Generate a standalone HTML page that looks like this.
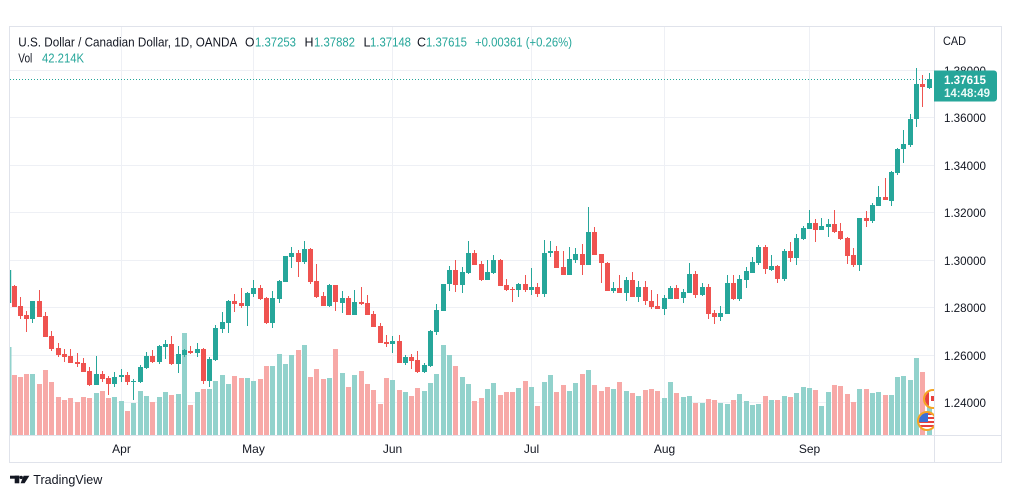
<!DOCTYPE html>
<html><head><meta charset="utf-8">
<style>
html,body{margin:0;padding:0;background:#fff;overflow:hidden;width:1012px;height:498px}
svg{display:block}
text{font-family:"Liberation Sans",Arial,sans-serif}
</style></head>
<body>
<svg id="c" width="1012" height="498" viewBox="0 0 1012 498" xmlns="http://www.w3.org/2000/svg">
<defs>
<clipPath id="pane"><rect x="10" y="27" width="924" height="408"/></clipPath>
<clipPath id="f1"><circle cx="933" cy="399" r="8"/></clipPath>
<clipPath id="f2"><circle cx="927" cy="421" r="8"/></clipPath>
</defs>
<rect width="1012" height="498" fill="#fff"/>
<g stroke="#eef0f5" stroke-width="1">
<line x1="10" y1="70.5" x2="934" y2="70.5"/>
<line x1="10" y1="117.5" x2="934" y2="117.5"/>
<line x1="10" y1="165.5" x2="934" y2="165.5"/>
<line x1="10" y1="212.5" x2="934" y2="212.5"/>
<line x1="10" y1="260.5" x2="934" y2="260.5"/>
<line x1="10" y1="307.5" x2="934" y2="307.5"/>
<line x1="10" y1="355.5" x2="934" y2="355.5"/>
<line x1="10" y1="402.5" x2="934" y2="402.5"/>
<line x1="121.5" y1="27" x2="121.5" y2="435"/>
<line x1="253.5" y1="27" x2="253.5" y2="435"/>
<line x1="392.5" y1="27" x2="392.5" y2="435"/>
<line x1="531.5" y1="27" x2="531.5" y2="435"/>
<line x1="664.5" y1="27" x2="664.5" y2="435"/>
<line x1="809.5" y1="27" x2="809.5" y2="435"/>
</g>
<rect x="10" y="347" width="1.5" height="88" fill="#92d2cc"/>
<rect x="10" y="270" width="1.2" height="33" fill="#26a69a"/>
<g id="plot" clip-path="url(#pane)"></g>
<line x1="10" y1="79.5" x2="934" y2="79.5" stroke="#26a69a" stroke-width="1" stroke-dasharray="1 2"/>
<!-- flags -->
<g clip-path="url(#pane)">
<circle cx="933" cy="399" r="9" fill="#fff" stroke="#f5a623" stroke-width="2"/>
<g clip-path="url(#f1)">
<rect x="924" y="390" width="5" height="18" fill="#e8413c"/>
<rect x="937" y="390" width="5" height="18" fill="#e8413c"/>
<rect x="931" y="396" width="4" height="5" fill="#e8413c"/>
</g>
<circle cx="927" cy="421" r="9" fill="#fff" stroke="#f5a623" stroke-width="2"/>
<g clip-path="url(#f2)">
<rect x="918" y="413" width="18" height="2" fill="#e8413c"/>
<rect x="918" y="417" width="18" height="2" fill="#e8413c"/>
<rect x="918" y="421" width="18" height="2" fill="#e8413c"/>
<rect x="918" y="425" width="18" height="2" fill="#e8413c"/>
<rect x="918" y="429" width="18" height="2" fill="#e8413c"/>
<rect x="918" y="413" width="10" height="9" fill="#3b6fd4"/>
</g>
</g>
<!-- frame and axes -->
<rect x="9.5" y="26.5" width="992" height="436" fill="none" stroke="#e0e3eb"/>
<line x1="934.5" y1="26.5" x2="934.5" y2="462.5" stroke="#e0e3eb"/>
<line x1="9.5" y1="435.5" x2="1001.5" y2="435.5" stroke="#e0e3eb"/>
<!-- price axis -->
<g font-size="12" fill="#131722">
<text x="943" y="45" textLength="23" lengthAdjust="spacingAndGlyphs">CAD</text>
<text x="944" y="74.8" textLength="42" lengthAdjust="spacingAndGlyphs">1.38000</text>
<text x="944" y="121.8" textLength="42" lengthAdjust="spacingAndGlyphs">1.36000</text>
<text x="944" y="169.8" textLength="42" lengthAdjust="spacingAndGlyphs">1.34000</text>
<text x="944" y="216.8" textLength="42" lengthAdjust="spacingAndGlyphs">1.32000</text>
<text x="944" y="264.8" textLength="42" lengthAdjust="spacingAndGlyphs">1.30000</text>
<text x="944" y="311.8" textLength="42" lengthAdjust="spacingAndGlyphs">1.28000</text>
<text x="944" y="359.8" textLength="42" lengthAdjust="spacingAndGlyphs">1.26000</text>
<text x="944" y="406.8" textLength="42" lengthAdjust="spacingAndGlyphs">1.24000</text>
</g>
<path d="M934,70.5 H994 a3,3 0 0 1 3,3 V98.5 a3,3 0 0 1 -3,3 H934 Z" fill="#26a69a"/>
<text x="944" y="84" font-size="12" font-weight="bold" fill="#fff" textLength="42" lengthAdjust="spacingAndGlyphs">1.37615</text>
<text x="944" y="97" font-size="12" font-weight="bold" fill="#eafaf7" textLength="46" lengthAdjust="spacingAndGlyphs">14:48:49</text>
<!-- time axis -->
<g font-size="12" fill="#131722" text-anchor="middle">
<text x="121.5" y="453">Apr</text>
<text x="253.5" y="453">May</text>
<text x="392.5" y="453">Jun</text>
<text x="531.5" y="453">Jul</text>
<text x="664.5" y="453">Aug</text>
<text x="809.5" y="453">Sep</text>
</g>
<!-- header legend -->
<g font-size="13">
<text x="18.3" y="46.5" fill="#131722" textLength="219" lengthAdjust="spacingAndGlyphs">U.S. Dollar / Canadian Dollar, 1D, OANDA</text>
<text x="245" y="46.5" fill="#131722" textLength="9.5" lengthAdjust="spacingAndGlyphs">O</text>
<text x="255" y="46.5" fill="#26a69a" textLength="41" lengthAdjust="spacingAndGlyphs">1.37253</text>
<text x="304.5" y="46.5" fill="#131722" textLength="9" lengthAdjust="spacingAndGlyphs">H</text>
<text x="314" y="46.5" fill="#26a69a" textLength="41" lengthAdjust="spacingAndGlyphs">1.37882</text>
<text x="363.5" y="46.5" fill="#131722" textLength="7" lengthAdjust="spacingAndGlyphs">L</text>
<text x="370" y="46.5" fill="#26a69a" textLength="41" lengthAdjust="spacingAndGlyphs">1.37148</text>
<text x="417" y="46.5" fill="#131722" textLength="9" lengthAdjust="spacingAndGlyphs">C</text>
<text x="426" y="46.5" fill="#26a69a" textLength="41" lengthAdjust="spacingAndGlyphs">1.37615</text>
<text x="475" y="46.5" fill="#26a69a" textLength="97" lengthAdjust="spacingAndGlyphs">+0.00361 (+0.26%)</text>
<text x="18.3" y="62.7" fill="#131722" textLength="14" lengthAdjust="spacingAndGlyphs">Vol</text>
<text x="42" y="62.7" fill="#26a69a" textLength="42" lengthAdjust="spacingAndGlyphs">42.214K</text>
</g>
<!-- logo -->
<g fill="#131722">
<rect x="10" y="475.7" width="9.3" height="3"/>
<rect x="14.7" y="475.7" width="4.6" height="7.6"/>
<circle cx="21.2" cy="477.4" r="1.7"/>
<polygon points="23.6,475.7 29.4,475.7 24.6,483.3 20.6,483.3"/>
</g>
<text x="33.3" y="484" font-size="12.5" fill="#131722" textLength="69" lengthAdjust="spacingAndGlyphs">TradingView</text>
</svg>
<script>
(function(){
var D=[
[1,268,270,303,305,347],
[0,285,286,307,307,375],[0,297,306,316,319,377],[0,311,315,319,332,374],[1,301,301,319,323,374],[0,290,301,317,317,384],
[0,312,316,337,337,370],[0,331,336,349,351,382],[0,343,348,355,357,397],[0,349,354,357,362,400],[0,349,356,363,363,398],
[0,353,362,364,367,402],[0,358,363,372,372,397],[0,367,371,385,386,398],[1,356,374,385,385,393],[0,371,374,379,382,391],
[0,376,378,384,395,398],[1,372,377,384,387,397],[1,369,375,377,382,401],[0,372,375,382,385,411],[1,379,381,382,400,403],
[1,365,367,382,383,391],[1,352,356,368,369,396],[0,350,356,362,363,402],[1,345,346,362,364,397],[1,340,344,347,359,392],
[0,336,344,364,365,395],[1,346,354,364,373,394],[1,349,350,355,357,333],[0,346,351,353,354,405],[1,343,349,353,357,392],
[0,348,349,381,384,389],[1,357,359,381,387,389],[1,325,328,360,361,381],[1,312,322,329,333,375],[1,300,301,323,333,384],
[0,294,301,304,312,376],[0,288,303,306,308,378],[1,292,293,306,326,378],[1,280,288,294,297,381],[0,285,288,299,300,379],
[0,297,298,323,324,366],[1,291,298,323,328,366],[1,280,281,299,303,354],[1,256,256,282,282,364],[1,247,253,257,268,355],
[0,250,253,262,277,350],[1,241,249,262,264,345],[0,248,249,282,284,377],[0,264,281,297,298,369],[0,292,296,306,306,379],
[1,284,285,306,307,378],[0,285,285,302,311,349],[1,291,298,303,313,373],[0,296,298,315,315,387],[1,290,302,315,315,375],
[0,287,302,304,305,371],[0,295,303,315,315,384],[0,311,314,327,327,390],[0,323,326,343,343,404],[0,335,342,344,347,378],
[1,336,341,344,353,380],[0,335,341,363,363,390],[1,355,357,363,365,392],[0,354,357,361,369,396],[0,351,360,372,373,388],
[1,363,365,372,373,391],[1,330,331,366,367,383],[1,304,310,332,335,374],[1,284,284,311,311,345],[1,266,270,284,291,355],
[0,260,270,285,292,366],[1,267,272,285,293,377],[1,241,253,273,274,384],[0,250,253,265,265,401],[0,261,264,280,281,398],
[1,260,272,280,280,389],[1,255,260,273,274,383],[0,259,260,286,286,395],[0,279,285,290,291,392],[0,287,289,290,302,392],
[1,283,284,290,297,388],[0,275,284,290,292,381],[1,268,287,290,295,387],[0,283,287,294,297,406],[1,240,253,294,297,382],
[1,241,251,253,257,375],[0,246,251,268,268,392],[0,251,267,275,275,385],[1,247,259,275,275,391],[1,248,254,260,263,383],
[0,244,254,265,275,374],[1,207,232,265,265,370],[0,227,232,255,255,385],[0,254,254,263,283,391],[0,262,263,291,291,387],
[1,282,288,291,293,389],[0,275,288,293,293,382],[1,277,280,293,301,391],[0,272,280,297,297,393],[1,281,287,297,302,396],
[0,281,287,301,305,390],[0,290,301,307,309,389],[0,294,306,309,309,391],[1,295,298,309,315,398],[1,286,288,299,299,382],
[0,285,288,299,299,393],[1,289,292,298,303,397],[1,263,274,293,293,396],[0,271,274,295,298,403],[1,283,287,295,296,403],
[0,284,287,314,319,399],[0,310,313,317,324,400],[1,306,313,317,321,403],[1,275,283,314,314,404],[0,275,283,299,300,400],
[1,275,279,299,301,394],[1,267,271,280,288,401],[1,257,262,273,273,405],[1,245,247,263,265,404],[0,245,247,269,274,396],
[1,255,266,270,271,400],[0,265,266,279,283,400],[1,249,251,279,281,396],[0,242,251,258,262,397],[1,234,238,258,265,393],
[1,226,228,239,240,387],[1,210,223,229,229,388],[0,219,223,230,242,390],[1,218,226,230,230,406],[1,219,224,227,237,392],
[0,210,224,232,233,385],[0,223,231,239,240,386],[0,237,238,256,264,394],[0,248,255,265,267,402],[1,218,218,265,271,389],
[0,211,218,221,227,389],[1,203,205,221,223,393],[1,186,197,206,206,392],[0,178,197,200,200,395],[1,171,172,201,206,395],
[1,148,149,173,175,377],[1,130,144,149,163,376],[1,114,119,145,147,380],[1,68,84,119,127,358],[0,75,84,87,107,372],
[1,73,79,88,89,400]
];
var vol='',cdl='';
for(var k=0;k<D.length;k++){
  var d=D[k],i=k-1,x=14+6.312*i,L=Math.round(x-2.5);
  var up=d[0]===1;
  var vc=up?'#92d2cc':'#f7a9a7', cc=up?'#26a69a':'#ef5350';
  vol+='<rect x="'+L+'" y="'+d[5]+'" width="5" height="'+(435-d[5])+'" fill="'+vc+'"/>';
  cdl+='<rect x="'+(L+2)+'" y="'+d[1]+'" width="1" height="'+Math.max(1,d[4]-d[1])+'" fill="'+cc+'"/>';
  cdl+='<rect x="'+L+'" y="'+d[2]+'" width="5" height="'+Math.max(1,d[3]-d[2])+'" fill="'+cc+'"/>';
}
var g=document.getElementById('plot');
var NS='http://www.w3.org/2000/svg';
var tmp=new DOMParser().parseFromString('<svg xmlns="'+NS+'">'+vol+cdl+'</svg>','image/svg+xml');
var nodes=tmp.documentElement.childNodes;
for(var j=0;j<nodes.length;j++){g.appendChild(document.importNode(nodes[j],true));}
})();
</script>
</body></html>
